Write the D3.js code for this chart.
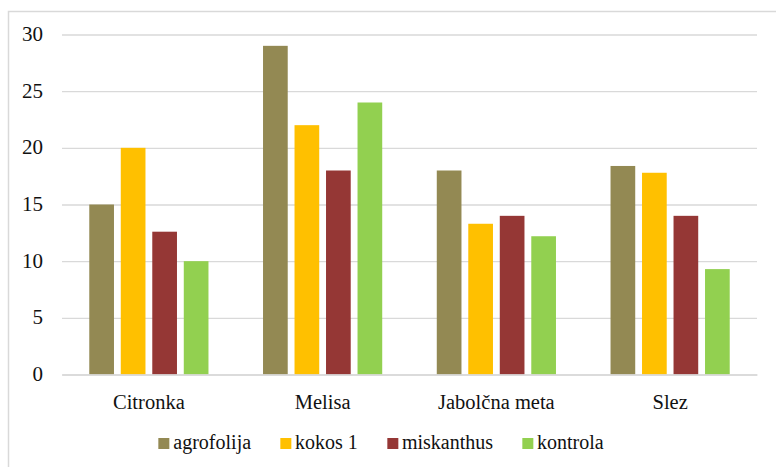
<!DOCTYPE html>
<html>
<head>
<meta charset="utf-8">
<script src="https://cdn.jsdelivr.net/npm/d3@7"></script>
<style>
  body { margin: 0; background: #fff; }
  #wrap { position: relative; width: 776px; height: 467px; overflow: hidden; }
  #wrap svg { position: absolute; left: 0; top: 0; }
  .lbl {
    position: absolute;
    font-family: "Liberation Serif", "Times New Roman", Tinos, serif;
    color: #111;
    white-space: nowrap;
    line-height: 1;
  }
</style>
</head>
<body>
<div id="wrap"><svg id="chart" width="776" height="467"></svg></div>
<script>
// Plant categories and the four substrate treatments
const categories = ["Citronka", "Melisa", "Jabolčna meta", "Slez"];
const seriesNames = ["agrofolija", "kokos 1", "miskanthus", "kontrola"];
const seriesColors = ["#938953", "#FFC000", "#953735", "#92D050"];

// Values per treatment, one entry per category
const agrofolija = [15, 29, 18, 18.4];
const kokos1 = [20, 22, 13.3, 17.8];
const miskanthus = [12.6, 18, 14, 14];
const kontrola = [10, 24, 12.2, 9.3];

const yTicks = [0, 5, 10, 15, 20, 25, 30];

const seriesValues = [agrofolija, kokos1, miskanthus, kontrola];
const rows = categories.map((c, i) => ({
  category: c,
  values: seriesNames.map((s, j) => ({ series: s, value: seriesValues[j][i], color: seriesColors[j] }))
}));

const wrap = d3.select("#wrap");
const svg = d3.select("#chart");

// Outer chart frame (runs off the right and bottom edges)
svg.append("rect")
  .attr("x", 8.5).attr("y", 11.5)
  .attr("width", 800).attr("height", 500)
  .attr("fill", "none").attr("stroke", "#d9d9d9").attr("stroke-width", 1.5);

const plot = { left: 62, right: 757, top: 34.5, bottom: 374.5 };

const x0 = d3.scaleBand().domain(categories).range([plot.left, plot.right]).paddingInner(0).paddingOuter(0);
const x1 = d3.scaleBand().domain(seriesNames).range([0, x0.bandwidth()]).paddingInner(0.216).paddingOuter(0.866);
const y = d3.scaleLinear().domain([0, 30]).range([plot.bottom, plot.top]);

// Horizontal gridlines
const yAxis = d3.axisLeft(y).tickValues(yTicks).tickSize(-(plot.right - plot.left)).tickFormat("");
const gy = svg.append("g").attr("transform", `translate(${plot.left},0)`).call(yAxis);
gy.select(".domain").remove();
gy.selectAll(".tick line").attr("stroke", "#d9d9d9").attr("stroke-width", 1.4);

// Bars
const groups = svg.append("g").selectAll("g")
  .data(rows).join("g")
  .attr("transform", d => `translate(${x0(d.category)},0)`);

groups.selectAll("rect")
  .data(d => d.values).join("rect")
  .attr("x", d => x1(d.series))
  .attr("width", x1.bandwidth())
  .attr("y", d => y(d.value))
  .attr("height", d => y(0) - y(d.value))
  .attr("fill", d => d.color);

// Category axis line
const xAxis = d3.axisBottom(x0).tickSize(0).tickFormat("");
const gx = svg.append("g").attr("transform", `translate(0,${plot.bottom})`).call(xAxis);
gx.select(".domain").attr("stroke", "#d9d9d9").attr("stroke-width", 1.4);

// Value labels, right-aligned left of the gridlines
wrap.selectAll("div.ylbl").data(yTicks).join("div")
  .attr("class", "lbl ylbl")
  .style("font-size", "21px")
  .style("right", `${776 - 43}px`)
  .style("top", d => `${y(d) - 10.5}px`)
  .text(d => d);

// Category labels, centred on each group
wrap.selectAll("div.xlbl").data(categories).join("div")
  .attr("class", "lbl xlbl")
  .style("font-size", "20.5px")
  .style("left", d => `${x0(d) + x0.bandwidth() / 2}px`)
  .style("top", "392px")
  .style("transform", "translateX(-50%)")
  .text(d => d);

// Legend, centred below the axis
const legend = wrap.append("div")
  .style("position", "absolute")
  .style("left", `${(165 + 597) / 2}px`)
  .style("top", "432px")
  .style("transform", "translateX(-50%)")
  .style("display", "flex")
  .style("align-items", "center")
  .style("gap", "29px")
  .style("white-space", "nowrap");

const items = legend.selectAll("div").data(seriesNames).join("div")
  .style("display", "flex")
  .style("align-items", "center");
items.append("span")
  .style("display", "inline-block")
  .style("width", "11px").style("height", "11px")
  .style("margin-right", "4px")
  .style("margin-top", "3px")
  .style("background", (d, i) => seriesColors[i]);
items.append("span")
  .attr("class", "lbl")
  .style("position", "static")
  .style("font-size", "20px")
  .text(d => d);
</script>
</body>
</html>
